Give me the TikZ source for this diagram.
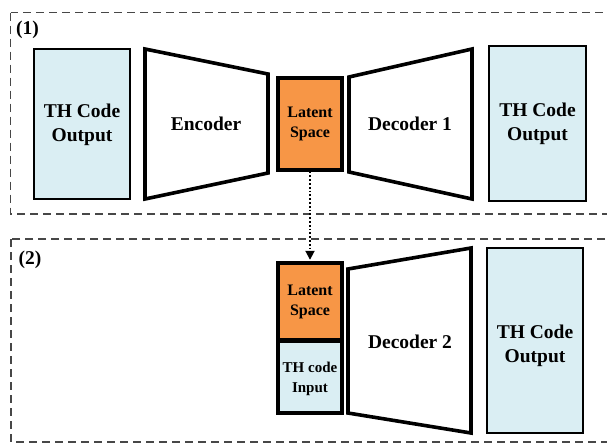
\documentclass[tikz,border=0pt]{standalone}
\usepackage{fontspec}
\setmainfont{Liberation Serif}
\usetikzlibrary{arrows.meta}
\definecolor{codeblue}{HTML}{DAEEF3}
\definecolor{latentorange}{HTML}{F79646}
\begin{document}
\begin{tikzpicture}[x=1pt,y=-1pt,
  panel/.style={draw=black!72, line width=1.3pt, dash pattern=on 8pt off 5pt},
  bigtext/.style={font=\bfseries\fontsize{19.5}{24.5}\selectfont, align=center, text=black},
  smalltext/.style={font=\bfseries\fontsize{16}{20}\selectfont, align=center, text=black},
  codebox/.style={draw=black, fill=codeblue, line width=2.4pt, rectangle, inner sep=0pt},
  latentbox/.style={draw=black, fill=latentorange, line width=3.2pt, rectangle, inner sep=0pt},
  inputbox/.style={draw=black, fill=codeblue, line width=3.2pt, rectangle, inner sep=0pt},
  net/.style={draw=black, fill=white, line width=3.6pt, line join=miter},
  link/.style={draw=black, line width=1.8pt, dotted, -{Triangle[length=9pt,width=9pt]}}
]
\clip (0,0) rectangle (607,445);
\fill[white] (0,0) rectangle (607,445);

% stage (1): autoencoder
\draw[panel] (10.5,12.5) rectangle (625,214);
\node[bigtext] (lab1) at (27.5,30) {(1)};

\node[codebox, minimum width=96pt, minimum height=150pt] (out1) at (82,124) {};
\node[bigtext] (out1t) at (82,125) {TH Code\\Output};

\coordinate (enc1) at (145,49);
\coordinate (enc2) at (268,74);
\coordinate (enc3) at (268,173);
\coordinate (enc4) at (145,199);
\draw[net] (enc1) -- (enc2) -- (enc3) -- (enc4) -- cycle;
\node[bigtext] (enct) at (206,124) {Encoder};

\node[latentbox, minimum width=64pt, minimum height=92pt] (lat1) at (310,124) {};
\node[smalltext] (lat1t) at (310,124) {Latent\\Space};

\coordinate (dea1) at (349,77);
\coordinate (dea2) at (472,49);
\coordinate (dea3) at (472,199);
\coordinate (dea4) at (349,172);
\draw[net] (dea1) -- (dea2) -- (dea3) -- (dea4) -- cycle;
\node[bigtext] (deat) at (410,124) {Decoder 1};

\node[codebox, minimum width=97pt, minimum height=155pt] (out2) at (537.5,123.5) {};
\node[bigtext] (out2t) at (537.5,124) {TH Code\\Output};

% stage (2): conditioned decoder
\draw[panel] (11,239) rectangle (625,442);
\node[bigtext] (lab2) at (30,260) {(2)};

\node[latentbox, minimum width=64pt, minimum height=77pt] (lat2) at (310,301.5) {};
\node[smalltext] (lat2t) at (310,302) {Latent\\Space};
\node[inputbox, minimum width=64pt, minimum height=73pt] (inp) at (310,376.5) {};
\node[smalltext, font=\bfseries\fontsize{15}{20}\selectfont] (inpt) at (310,379) {TH code\\Input};
\draw[black, line width=3.2pt] (lat2.south west) -- (lat2.south east);

\coordinate (deb1) at (348,269);
\coordinate (deb2) at (471,248);
\coordinate (deb3) at (471,433);
\coordinate (deb4) at (348,413);
\draw[net] (deb1) -- (deb2) -- (deb3) -- (deb4) -- cycle;
\node[bigtext] (debt) at (410,342) {Decoder 2};

\node[codebox, minimum width=96pt, minimum height=185pt] (out3) at (535,340.5) {};
\node[bigtext] (out3t) at (535,346) {TH Code\\Output};

% latent code carried over from stage (1)
\draw[link] (lat1.south) -- ([yshift=1.6pt]lat2.north);
\end{tikzpicture}
\end{document}
